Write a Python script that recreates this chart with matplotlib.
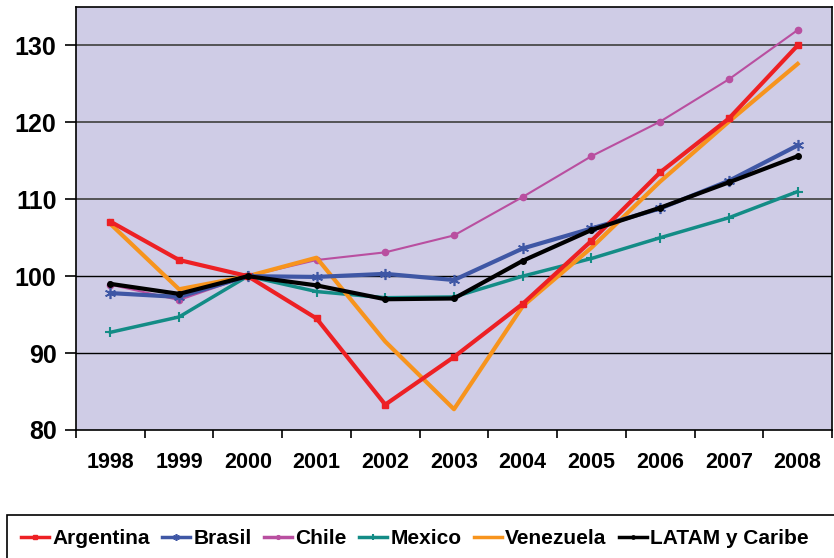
import matplotlib
matplotlib.use("Agg")
import matplotlib.pyplot as plt
from matplotlib.patches import Rectangle
import numpy as np

plt.rcParams['font.family'] = ['Liberation Sans', 'DejaVu Sans']
plt.rcParams['font.weight'] = 'bold'

years = ['1998', '1999', '2000', '2001', '2002', '2003', '2004', '2005', '2006', '2007', '2008']

argentina = [107.1, 102.1, 100.0, 94.5, 83.3, 89.5, 96.4, 104.6, 113.5, 120.5, 130.0]
brasil = [97.8, 97.3, 100.0, 99.9, 100.3, 99.5, 103.6, 106.2, 108.8, 112.4, 117.0]
chile = [98.9, 96.9, 100.0, 102.1, 103.1, 105.3, 110.3, 115.6, 120.1, 125.6, 132.0]
mexico = [92.7, 94.7, 100.0, 98.0, 97.2, 97.3, 100.0, 102.3, 105.0, 107.6, 111.0]
venezuela = [106.8, 98.3, 100.0, 102.4, 91.5, 82.7, 96.1, 103.7, 112.3, 120.1, 127.6]
latam = [99.0, 97.7, 100.0, 98.8, 97.0, 97.1, 102.0, 106.0, 108.9, 112.2, 115.6]

fig = plt.figure(figsize=(8.34, 5.58), dpi=100)
ax = fig.add_axes([0.0911, 0.2294, 0.9065, 0.7581])
ax.set_facecolor('#CFCCE6')

x = np.arange(len(years))

# gridlines
for v, c in [(90, 'black'), (100, 'black'), (110, '#4a4a4a'), (120, '#4a4a4a'), (130, '#4a4a4a')]:
    ax.axhline(v, color=c, lw=1.3 if c != 'black' else 1.0, zorder=1)

ax.plot(x, chile, color='#B94FA0', lw=1.5, marker='o', ms=4.5, label='Chile', zorder=2)
ax.plot(x, mexico, color='#138C86', lw=2.5, marker='+', ms=7, mew=1.5, label='Mexico', zorder=3)
ax.plot(x, venezuela, color='#F7941D', lw=3, label='Venezuela', zorder=4)
ax.plot(x, brasil, color='#3F57A5', lw=3, marker=(6, 2, 0), ms=8, mew=1.2, label='Brasil', zorder=5)
ax.plot(x, argentina, color='#ED2024', lw=3, marker='s', ms=4, label='Argentina', zorder=6)
ax.plot(x, latam, color='black', lw=3, marker='o', ms=4, label='LATAM y Caribe', zorder=7)

ax.set_xlim(-0.5, len(years) - 0.5)
ax.set_ylim(80, 135)
ax.set_yticks([80, 90, 100, 110, 120, 130])
ax.tick_params(axis='y', labelsize=18, length=8, width=1.2, direction='out', pad=6)
ax.set_xticks(x)
ax.set_xticklabels(years)
ax.set_xticks(np.arange(-0.5, len(years), 1), minor=True)
ax.tick_params(axis='x', which='major', length=0, labelsize=15.5, pad=16)
ax.tick_params(axis='x', which='minor', length=6, width=1.2, direction='out')
for s in ax.spines.values():
    s.set_color('black')
    s.set_linewidth(1.2)

handles, labels = ax.get_legend_handles_labels()
order = ['Argentina', 'Brasil', 'Chile', 'Mexico', 'Venezuela', 'LATAM y Caribe']
hs = [handles[labels.index(o)] for o in order]
leg = fig.legend(hs, order, loc='center left', bbox_to_anchor=(0.025, 0.035),
                 ncol=6, fontsize=15, frameon=False,
                 handlelength=1.35, handletextpad=0.15, columnspacing=0.6,
                 borderaxespad=0, borderpad=0, markerscale=0.6)
for line in leg.get_lines():
    line.set_linewidth(2.5)

# legend box
fig.add_artist(Rectangle((7 / 834, -0.05), 0.995, 0.127, transform=fig.transFigure,
                         fill=False, edgecolor='black', lw=1.2))

fig.savefig('out.png', dpi=100)
